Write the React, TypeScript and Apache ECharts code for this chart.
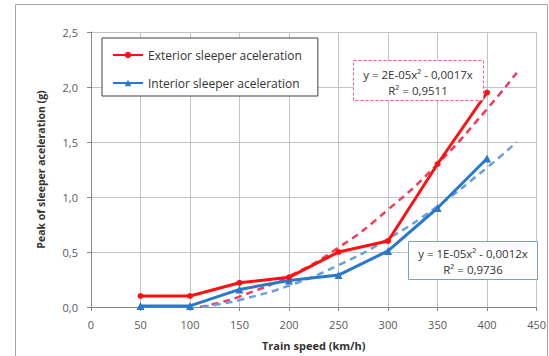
import React, { useEffect, useRef } from "react";
import * as echarts from "echarts";

const speeds = [50, 100, 150, 200, 250, 300, 350, 400];
const exterior = [0.1, 0.1, 0.22, 0.27, 0.5, 0.6, 1.3, 1.95];
const interior = [0.01, 0.01, 0.16, 0.24, 0.29, 0.51, 0.9, 1.35];

const extTrendX = [110, 130, 150, 200, 250, 300, 350, 400, 430];
const extTrendY = [0.0, 0.04, 0.095, 0.28, 0.54, 0.885, 1.3, 1.8, 2.13];
const intTrendX = [112, 130, 150, 200, 250, 300, 350, 400, 430];
const intTrendY = [0.0, 0.026, 0.063, 0.194, 0.38, 0.62, 0.916, 1.267, 1.5];

const xTicks = [0, 50, 100, 150, 200, 250, 300, 350, 400, 450];
const yTicks = [0, 0.5, 1.0, 1.5, 2.0, 2.5];

const extLabel = "Exterior sleeper aceleration";
const intLabel = "Interior sleeper aceleration";
const extEq = ["y = 2E-05x² - 0,0017x", "R² = 0,9511"];
const intEq = ["y = 1E-05x² - 0,0012x", "R² = 0,9736"];

const FONT = "'Open Sans', 'Liberation Sans', sans-serif";

function eqText(text: string, x: number, y: number) {
  return {
    type: "text",
    x,
    y,
    z: 101,
    silent: true,
    style: {
      text,
      fontFamily: FONT,
      fontSize: 11.5,
      fill: "#333333",
      align: "center",
      verticalAlign: "middle",
    },
  };
}

export default function App() {
  const ref = useRef<HTMLDivElement>(null);
  useEffect(() => {
    if (!ref.current) return;
    const chart = echarts.init(ref.current, null, { renderer: "svg" });
    const zip = (xs: number[], ys: number[]) => xs.map((x, i) => [x, ys[i]]);
    chart.setOption({
      animation: false,
      backgroundColor: "#ffffff",
      grid: { left: 91, right: 11, top: 32, bottom: 44 },
      xAxis: {
        type: "value",
        min: xTicks[0],
        max: xTicks[xTicks.length - 1],
        interval: 50,
        name: "Train speed (km/h)",
        nameLocation: "middle",
        nameGap: 33,
        nameTextStyle: { fontFamily: FONT, fontWeight: "bold", fontSize: 11, color: "#333" },
        axisLine: { lineStyle: { color: "#868686" } },
        axisTick: { show: true, length: 4, lineStyle: { color: "#868686" } },
        axisLabel: { fontFamily: FONT, fontSize: 11, color: "#595959", margin: 12 },
        splitLine: { show: true, lineStyle: { color: "#c4c4c4", width: 1 } },
      },
      yAxis: {
        type: "value",
        min: yTicks[0],
        max: yTicks[yTicks.length - 1],
        interval: 0.5,
        name: "Peak of sleeper aceleration (g)",
        nameLocation: "middle",
        nameGap: 45,
        nameRotate: 90,
        nameTextStyle: { fontFamily: FONT, fontWeight: "bold", fontSize: 10.5, color: "#333" },
        axisLine: { show: true, lineStyle: { color: "#868686" } },
        axisTick: { show: true, length: 4, lineStyle: { color: "#868686" } },
        axisLabel: {
          fontFamily: FONT,
          fontSize: 11,
          color: "#595959",
          margin: 13,
          formatter: (v: number) => v.toFixed(1).replace(".", ","),
        },
        splitLine: { show: true, lineStyle: { color: "#c4c4c4", width: 1 } },
      },
      legend: {
        data: [extLabel, intLabel],
        orient: "vertical",
        left: 102,
        top: 38,
        padding: [11, 16, 7, 10],
        itemWidth: 30,
        itemHeight: 8,
        itemGap: 16,
        backgroundColor: "#ffffff",
        borderColor: "#404040",
        borderWidth: 1,
        borderRadius: 0,
        textStyle: { fontFamily: FONT, fontSize: 12, color: "#333" },
      },
      series: [
        {
          name: "extTrend",
          type: "line",
          data: zip(extTrendX, extTrendY),
          smooth: true,
          symbol: "none",
          lineStyle: { color: "#f23c5a", width: 2.5, type: [7, 5] },
          z: 2,
        },
        {
          name: "intTrend",
          type: "line",
          data: zip(intTrendX, intTrendY),
          smooth: true,
          symbol: "none",
          lineStyle: { color: "#6b9fdc", width: 2.5, type: [7, 5] },
          z: 2,
        },
        {
          name: intLabel,
          type: "line",
          data: zip(speeds, interior),
          symbol: "triangle",
          symbolSize: 8,
          itemStyle: { color: "#2a78cc" },
          lineStyle: { color: "#2a78cc", width: 3 },
          z: 3,
        },
        {
          name: extLabel,
          type: "line",
          data: zip(speeds, exterior),
          symbol: "circle",
          symbolSize: 6,
          itemStyle: { color: "#ff1010" },
          lineStyle: { color: "#ff1010", width: 3 },
          z: 4,
        },
      ],
      graphic: [
        {
          type: "rect",
          shape: { x: 15.5, y: 4.5, width: 532, height: 360 },
          style: { fill: "none", stroke: "#a6a6a6", lineWidth: 1 },
          silent: true,
          z: -10,
        },
        {
          type: "rect",
          shape: { x: 353.5, y: 60.5, width: 130, height: 40 },
          style: { fill: "#ffffff", stroke: "#f0607a", lineWidth: 1, lineDash: [3, 2] },
          silent: true,
          z: 100,
        },
        eqText(extEq[0], 418, 74),
        eqText(extEq[1], 418, 90),
        {
          type: "rect",
          shape: { x: 408.5, y: 241.5, width: 129, height: 38 },
          style: { fill: "#ffffff", stroke: "#6fa0d8", lineWidth: 1 },
          silent: true,
          z: 100,
        },
        eqText(intEq[0], 473, 253),
        eqText(intEq[1], 473, 269),
      ],
    });
    return () => chart.dispose();
  }, []);
  return (
    <div style={{ position: "fixed", left: 0, top: 0, width: 549, height: 356, background: "#fff" }}>
      <div ref={ref} style={{ width: 549, height: 356 }} />
    </div>
  );
}
